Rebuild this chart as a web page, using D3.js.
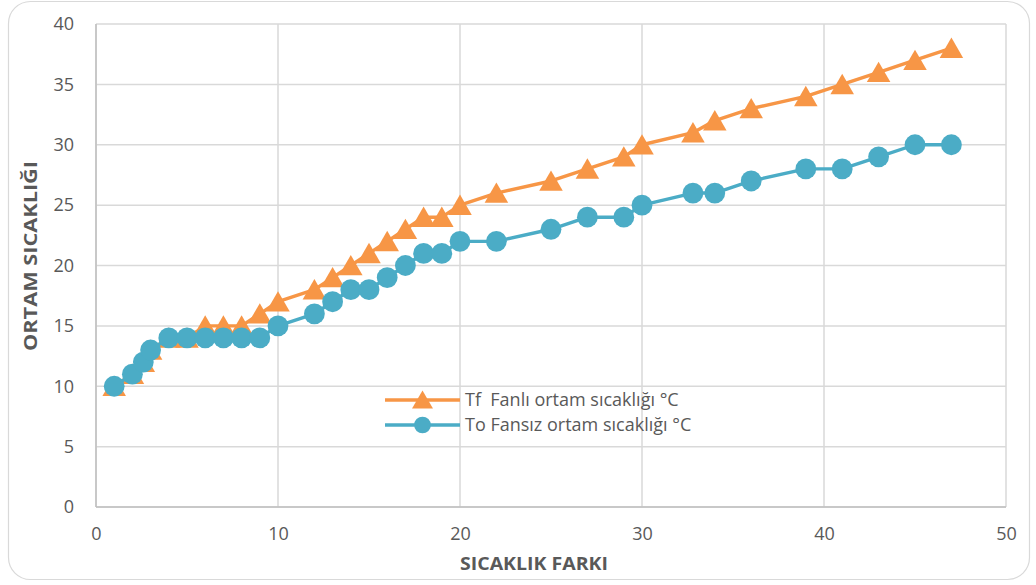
<!DOCTYPE html>
<html>
<head>
<meta charset="utf-8">
<script src="https://cdn.jsdelivr.net/npm/d3@7"></script>
<style>
  html, body { margin: 0; padding: 0; background: #fff; }
  svg { display: block; }
  text { font-family: "Open Sans", "Noto Sans", sans-serif; }
</style>
</head>
<body>
<svg id="chart" width="1036" height="585"></svg>
<script>
// Temperature difference (x) for each measurement
const fanX    = [1, 2, 2.6, 3, 4, 5, 6, 7, 8, 9, 10, 12, 13, 14, 15, 16, 17, 18, 19, 20, 22, 25, 27, 29, 30, 32.8, 34, 36, 39, 41, 43, 45, 47];
// Tf: ambient temperature with fan (°C)
const fanY    = [10, 11, 12, 13, 14, 14, 15, 15, 15, 16, 17, 18, 19, 20, 21, 22, 23, 24, 24, 25, 26, 27, 28, 29, 30, 31, 32, 33, 34, 35, 36, 37, 38];
const noFanX  = [1, 2, 2.6, 3, 4, 5, 6, 7, 8, 9, 10, 12, 13, 14, 15, 16, 17, 18, 19, 20, 22, 25, 27, 29, 30, 32.8, 34, 36, 39, 41, 43, 45, 47];
// To: ambient temperature without fan (°C)
const noFanY  = [10, 11, 12, 13, 14, 14, 14, 14, 14, 14, 15, 16, 17, 18, 18, 19, 20, 21, 21, 22, 22, 23, 24, 24, 25, 26, 26, 27, 28, 28, 29, 30, 30];

const xTicks = [0, 10, 20, 30, 40, 50];
const yTicks = [0, 5, 10, 15, 20, 25, 30, 35, 40];
const seriesNames = ["Tf  Fanlı ortam sıcaklığı °C", "To Fansız ortam sıcaklığı °C"];
const xTitle = "SICAKLIK FARKI";
const yTitle = "ORTAM SICAKLIĞI";

const ORANGE = "#F79646";
const BLUE = "#4BACC6";

const svg = d3.select("#chart");

// Chart frame
svg.append("rect")
  .attr("x", 8.5).attr("y", 1.5)
  .attr("width", 1021).attr("height", 578)
  .attr("rx", 22).attr("ry", 22)
  .attr("fill", "#fff")
  .attr("stroke", "#d9d9d9").attr("stroke-width", 1.2);

const plot = { left: 96, right: 1006, top: 24, bottom: 507 };

const x = d3.scaleLinear().domain([0, 50]).range([plot.left, plot.right]);
const y = d3.scaleLinear().domain([0, 40]).range([plot.bottom, plot.top]);

// Gridlines
const grid = svg.append("g");
grid.selectAll("line.h").data(yTicks).join("line")
  .attr("x1", plot.left).attr("x2", plot.right)
  .attr("y1", d => y(d)).attr("y2", d => y(d))
  .attr("stroke", "#d9d9d9").attr("stroke-width", 1.5);
grid.selectAll("line.v").data(xTicks).join("line")
  .attr("x1", d => x(d)).attr("x2", d => x(d))
  .attr("y1", plot.top).attr("y2", plot.bottom)
  .attr("stroke", "#d9d9d9").attr("stroke-width", 1.5);

// Axes lines
svg.append("line")
  .attr("x1", plot.left).attr("x2", plot.left)
  .attr("y1", plot.top).attr("y2", plot.bottom)
  .attr("stroke", "#bfbfbf").attr("stroke-width", 1.5);
svg.append("line")
  .attr("x1", plot.left).attr("x2", plot.right)
  .attr("y1", plot.bottom).attr("y2", plot.bottom)
  .attr("stroke", "#bfbfbf").attr("stroke-width", 1.5);

// Tick labels via d3 axes
const yAxis = d3.axisLeft(y).tickValues(yTicks).tickSize(0).tickPadding(22);
const xAxis = d3.axisBottom(x).tickValues(xTicks).tickSize(0).tickPadding(20);

const gy = svg.append("g").attr("transform", `translate(${plot.left},0)`).call(yAxis);
const gx = svg.append("g").attr("transform", `translate(0,${plot.bottom})`).call(xAxis);
[gx, gy].forEach(g => {
  g.select(".domain").remove();
  g.selectAll("text")
    .attr("fill", "#595959")
    .style("font-size", "18px")
    .style("font-family", "'Open Sans', sans-serif");
});

// Axis titles
svg.append("text")
  .attr("x", 534).attr("y", 570)
  .attr("text-anchor", "middle")
  .attr("fill", "#595959")
  .attr("textLength", 148).attr("lengthAdjust", "spacingAndGlyphs")
  .style("font-size", "18px").style("font-weight", "bold")
  .text(xTitle);
svg.append("text")
  .attr("transform", "translate(37,256) rotate(-90)")
  .attr("text-anchor", "middle")
  .attr("fill", "#595959")
  .attr("textLength", 190).attr("lengthAdjust", "spacingAndGlyphs")
  .style("font-size", "18px").style("font-weight", "bold")
  .text(yTitle);

const fanData = fanX.map((v, i) => [v, fanY[i]]);
const noFanData = noFanX.map((v, i) => [v, noFanY[i]]);

const line = d3.line().x(d => x(d[0])).y(d => y(d[1]));
const triangle = d3.symbol().type(d3.symbolTriangle).size(240);
const circle = d3.symbol().type(d3.symbolCircle).size(340);

// Tf series (orange, triangles)
svg.append("path").datum(fanData)
  .attr("d", line).attr("fill", "none")
  .attr("stroke", ORANGE).attr("stroke-width", 3.4).attr("stroke-linejoin", "round");
svg.append("g").selectAll("path").data(fanData).join("path")
  .attr("d", triangle)
  .attr("transform", d => `translate(${x(d[0])},${y(d[1]) + 3})`)
  .attr("fill", ORANGE);

// To series (blue, circles)
svg.append("path").datum(noFanData)
  .attr("d", line).attr("fill", "none")
  .attr("stroke", BLUE).attr("stroke-width", 3.4).attr("stroke-linejoin", "round");
svg.append("g").selectAll("path").data(noFanData).join("path")
  .attr("d", circle)
  .attr("transform", d => `translate(${x(d[0])},${y(d[1])})`)
  .attr("fill", BLUE);

// Legend
const legend = svg.append("g").attr("transform", "translate(385,400)");
const items = [
  { name: seriesNames[0], color: ORANGE, sym: d3.symbol().type(d3.symbolTriangle).size(190), dy: 2.5 },
  { name: seriesNames[1], color: BLUE, sym: d3.symbol().type(d3.symbolCircle).size(220), dy: 0 }
];
items.forEach((it, i) => {
  const g = legend.append("g").attr("transform", `translate(0,${i * 25})`);
  g.append("line").attr("x1", 0).attr("x2", 75).attr("y1", 0).attr("y2", 0)
    .attr("stroke", it.color).attr("stroke-width", 3.4);
  g.append("path").attr("d", it.sym).attr("transform", `translate(37.5,${it.dy})`).attr("fill", it.color);
  g.append("text").attr("x", 80).attr("y", 0).attr("dy", "0.35em")
    .attr("fill", "#595959")
    .attr("xml:space", "preserve")
    .style("white-space", "pre")
    .style("font-size", "18px")
    .text(it.name);
});
</script>
</body>
</html>
